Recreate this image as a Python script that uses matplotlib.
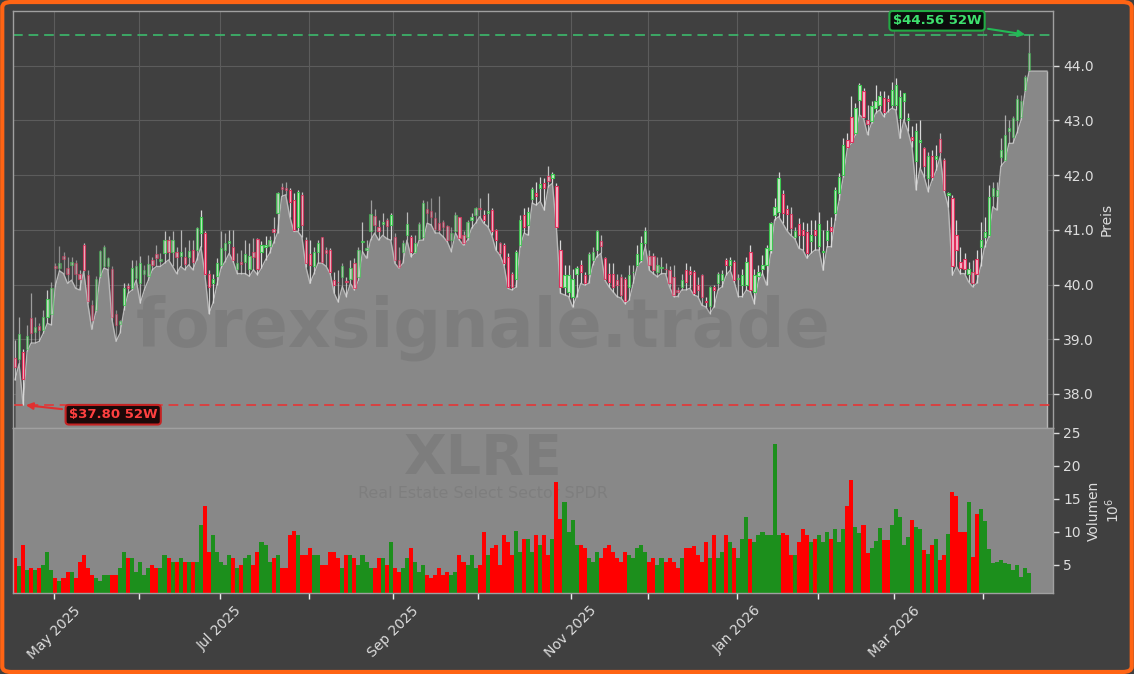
import numpy as np
import pandas as pd
import matplotlib
matplotlib.use("Agg")
import matplotlib.pyplot as plt
from matplotlib.colors import to_rgba
from matplotlib.patches import FancyBboxPatch

# ---------------- data ----------------
TICKER = "XLRE"
NAME = "Real Estate Select Sector SPDR"
WATERMARK = "forexsignale.trade"
START = "2025-04-16"
END = "2026-04-17"
HOLIDAYS = ["2025-04-18", "2025-05-26", "2025-06-19", "2025-07-04", "2025-09-01",
            "2025-11-27", "2025-12-25", "2026-01-01", "2026-01-19", "2026-02-16",
            "2026-04-03"]

opens = [
    38.65, 38.63, 38.77, 38.83, 39.38, 39.13, 39.24, 39.17, 39.41, 39.47,
    40.33, 40.30, 40.52, 40.30, 40.35, 40.39, 40.20, 40.73, 40.18, 39.63,
    39.54, 40.16, 40.33, 40.33, 40.29, 39.47, 39.28, 39.63, 39.98, 39.93,
    40.12, 40.02, 40.20, 40.15, 40.44, 40.56, 40.43, 40.57, 40.82, 40.60,
    40.60, 40.53, 40.50, 40.51, 40.63, 40.63, 40.94, 40.94, 40.20, 40.02,
    40.15, 40.36, 40.63, 40.76, 40.69, 40.28, 40.42, 40.42, 40.29, 40.60,
    40.84, 40.60, 40.69, 40.71, 41.01, 41.30, 41.78, 41.76, 41.73, 41.55,
    41.06, 41.64, 40.81, 40.55, 40.33, 40.60, 40.86, 40.63, 40.64, 40.08,
    40.05, 40.14, 40.07, 40.11, 40.39, 40.14, 40.77, 40.64, 40.97, 41.25,
    41.05, 41.10, 41.18, 41.09, 40.87, 40.44, 40.60, 40.90, 40.87, 40.60,
    40.84, 40.87, 41.38, 41.35, 41.21, 41.12, 41.15, 41.07, 40.81, 40.97,
    41.23, 40.90, 40.87, 41.18, 41.27, 41.40, 41.27, 41.30, 41.36, 40.99,
    40.75, 40.72, 40.51, 40.20, 40.11, 40.72, 41.27, 41.09, 41.56, 41.67,
    41.76, 41.85, 41.99, 41.94, 41.80, 40.63, 39.96, 39.87, 39.78, 40.20,
    40.36, 40.17, 40.20, 40.45, 40.63, 40.80, 40.48, 40.20, 40.20, 40.08,
    40.14, 40.11, 39.96, 40.22, 40.36, 40.45, 40.75, 40.52, 40.52, 40.23,
    40.30, 40.29, 40.26, 40.14, 39.90, 39.96, 40.26, 40.25, 40.23, 40.00,
    40.17, 39.70, 39.60, 39.95, 40.02, 40.08, 40.45, 40.36, 40.42, 40.10,
    39.99, 39.99, 40.60, 39.87, 40.15, 40.28, 40.36, 40.63, 41.27, 41.33,
    41.65, 41.38, 41.28, 40.86, 41.10, 41.00, 40.96, 40.80, 41.00, 40.70,
    40.60, 40.82, 41.06, 41.30, 41.67, 42.00, 42.64, 43.06, 42.77, 43.38,
    43.53, 43.01, 42.98, 43.22, 43.29, 43.41, 43.39, 43.29, 43.29, 43.04,
    43.36, 43.00, 42.70, 42.25, 42.60, 42.49, 41.95, 42.34, 42.30, 42.66,
    42.28, 41.64, 41.58, 40.90, 40.42, 40.46, 40.20, 40.23, 40.46, 40.69,
    40.87, 40.90, 41.61, 41.61, 42.33, 42.28, 42.80, 42.70, 43.01, 43.07,
    43.56, 43.93,
]
highs = [
    38.99, 39.41, 38.83, 39.26, 39.84, 39.41, 39.29, 39.54, 39.90, 40.05,
    40.39, 40.70, 40.60, 40.51, 40.51, 40.45, 40.27, 40.75, 40.27, 39.72,
    40.15, 40.63, 40.73, 40.51, 40.33, 39.54, 39.36, 40.02, 40.02, 40.45,
    40.45, 40.52, 40.36, 40.54, 40.51, 40.73, 40.57, 40.97, 40.88, 40.97,
    40.69, 41.00, 40.69, 40.82, 40.82, 41.06, 41.37, 40.97, 40.27, 40.20,
    40.48, 40.97, 40.94, 41.00, 41.00, 40.57, 40.63, 40.82, 40.76, 40.85,
    40.85, 40.79, 40.88, 40.88, 41.24, 41.70, 41.86, 41.88, 41.76, 41.67,
    41.73, 41.70, 40.87, 40.81, 40.69, 40.81, 40.87, 40.69, 40.66, 40.23,
    40.26, 40.39, 40.14, 40.45, 40.48, 40.69, 41.15, 40.81, 41.55, 41.38,
    41.18, 41.30, 41.21, 41.30, 40.94, 40.69, 40.81, 41.33, 40.90, 40.90,
    41.15, 41.55, 41.52, 41.58, 41.33, 41.61, 41.18, 41.09, 41.06, 41.33,
    41.24, 40.97, 41.18, 41.30, 41.42, 41.58, 41.36, 41.67, 41.40, 41.02,
    40.78, 40.75, 40.57, 40.23, 40.63, 41.27, 41.39, 41.42, 41.79, 41.88,
    41.97, 41.94, 42.16, 42.05, 41.85, 40.81, 40.36, 40.36, 40.29, 40.33,
    40.45, 40.23, 40.60, 40.69, 41.00, 40.90, 40.51, 40.39, 40.39, 40.20,
    40.20, 40.14, 40.36, 40.36, 40.72, 40.88, 41.06, 40.63, 40.57, 40.51,
    40.51, 40.39, 40.33, 40.36, 39.96, 40.20, 40.39, 40.33, 40.26, 40.14,
    40.20, 39.78, 39.98, 40.00, 40.23, 40.26, 40.48, 40.51, 40.45, 40.20,
    40.29, 40.51, 40.72, 40.29, 40.36, 40.54, 40.72, 41.15, 41.58, 42.06,
    41.73, 41.45, 41.42, 41.06, 41.21, 41.15, 41.12, 41.18, 41.18, 41.33,
    41.00, 41.18, 41.24, 41.79, 42.03, 42.67, 42.77, 43.45, 43.32, 43.68,
    43.59, 43.29, 43.35, 43.65, 43.53, 43.53, 43.47, 43.71, 43.77, 43.56,
    43.50, 43.13, 42.89, 42.95, 43.01, 42.52, 42.43, 42.46, 42.55, 42.77,
    42.31, 41.70, 41.64, 41.18, 40.69, 40.57, 40.42, 40.45, 40.63, 41.15,
    41.24, 41.82, 41.88, 41.88, 42.67, 43.10, 43.01, 43.08, 43.47, 43.47,
    43.83, 44.56,
]
lows = [
    38.26, 38.55, 37.80, 38.78, 38.93, 38.93, 38.96, 39.11, 39.29, 39.26,
    39.98, 40.25, 40.20, 40.02, 40.08, 39.93, 39.90, 40.24, 39.66, 39.18,
    39.50, 40.12, 40.30, 40.27, 39.36, 38.96, 39.11, 39.54, 39.84, 39.90,
    40.08, 39.66, 39.90, 40.08, 40.27, 40.33, 40.33, 40.39, 40.45, 40.33,
    40.20, 40.33, 40.27, 40.36, 40.27, 40.45, 40.69, 40.18, 39.47, 39.66,
    40.00, 40.30, 40.42, 40.57, 40.42, 40.20, 40.20, 40.20, 40.15, 40.27,
    40.18, 40.30, 40.45, 40.57, 40.76, 40.95, 41.61, 41.64, 41.24, 40.97,
    40.97, 40.87, 40.32, 40.02, 40.20, 40.39, 40.39, 40.33, 40.20, 39.84,
    39.68, 39.96, 39.78, 40.02, 39.90, 40.08, 40.60, 40.48, 40.81, 40.94,
    40.81, 40.90, 40.84, 40.81, 40.39, 40.30, 40.39, 40.81, 40.51, 40.58,
    40.81, 40.81, 41.12, 41.09, 40.94, 40.94, 40.87, 40.78, 40.60, 40.94,
    40.81, 40.72, 40.81, 41.03, 41.12, 41.24, 41.12, 41.06, 40.90, 40.63,
    40.54, 40.36, 39.93, 39.90, 39.95, 40.69, 40.94, 40.90, 41.49, 41.45,
    41.52, 41.36, 41.79, 41.85, 41.03, 39.84, 39.81, 39.78, 39.59, 39.78,
    40.02, 39.99, 40.02, 40.36, 40.51, 40.57, 40.08, 39.96, 39.87, 39.78,
    39.75, 39.65, 39.71, 40.02, 40.33, 40.42, 40.69, 40.26, 40.20, 40.14,
    40.20, 40.20, 39.96, 39.78, 39.78, 39.90, 39.90, 39.93, 39.81, 39.78,
    39.62, 39.59, 39.47, 39.59, 39.90, 39.96, 40.17, 40.26, 40.05, 39.78,
    39.78, 39.90, 39.87, 39.65, 40.08, 40.20, 39.99, 40.57, 41.18, 41.24,
    41.12, 40.99, 40.90, 40.84, 40.66, 40.63, 40.48, 40.57, 40.63, 40.63,
    40.26, 40.69, 40.69, 41.18, 41.55, 41.97, 42.49, 42.58, 42.74, 43.10,
    43.04, 42.74, 42.95, 43.13, 43.19, 43.07, 43.16, 43.22, 43.19, 42.67,
    43.01, 42.80, 42.52, 41.73, 42.13, 41.97, 41.70, 41.91, 42.09, 42.34,
    41.70, 41.42, 40.17, 40.33, 40.20, 40.20, 40.05, 39.96, 40.02, 40.33,
    40.69, 40.87, 41.42, 41.36, 42.16, 42.25, 42.58, 42.58, 42.77, 43.01,
    43.53, 43.90,
]
closes = [
    38.49, 39.09, 38.27, 39.05, 39.11, 39.22, 39.16, 39.41, 39.73, 39.93,
    40.30, 40.40, 40.47, 40.20, 40.42, 40.20, 40.10, 40.27, 39.70, 39.35,
    40.10, 40.62, 40.69, 40.48, 39.41, 39.26, 39.33, 39.93, 39.93, 40.30,
    40.33, 40.39, 40.27, 40.37, 40.36, 40.48, 40.46, 40.82, 40.59, 40.82,
    40.50, 40.60, 40.38, 40.62, 40.42, 41.03, 41.24, 40.20, 39.96, 40.11,
    40.39, 40.66, 40.76, 40.79, 40.45, 40.39, 40.38, 40.56, 40.52, 40.50,
    40.29, 40.73, 40.73, 40.82, 40.96, 41.67, 41.75, 41.72, 41.50, 41.00,
    41.70, 41.09, 40.39, 40.35, 40.60, 40.75, 40.42, 40.57, 40.23, 39.99,
    40.04, 40.34, 40.04, 40.30, 39.93, 40.64, 40.80, 40.66, 41.29, 41.09,
    40.97, 41.15, 41.07, 41.27, 40.45, 40.32, 40.75, 41.10, 40.60, 40.75,
    41.10, 41.49, 41.30, 41.24, 41.01, 40.99, 41.06, 40.81, 40.95, 41.27,
    40.85, 40.75, 41.15, 41.24, 41.39, 41.38, 41.18, 41.34, 40.97, 40.81,
    40.57, 40.39, 39.96, 39.96, 40.60, 41.18, 41.06, 41.33, 41.74, 41.61,
    41.83, 41.76, 41.90, 42.02, 41.06, 39.96, 40.17, 40.17, 40.11, 40.30,
    40.22, 40.02, 40.56, 40.60, 40.98, 40.70, 40.11, 40.05, 39.96, 40.00,
    39.81, 39.69, 40.17, 40.23, 40.56, 40.75, 40.97, 40.36, 40.26, 40.36,
    40.30, 40.28, 40.02, 39.81, 39.87, 40.09, 40.05, 40.20, 39.84, 39.90,
    39.78, 39.68, 39.96, 39.90, 40.20, 40.20, 40.36, 40.45, 40.08, 40.12,
    40.17, 40.42, 39.90, 40.17, 40.23, 40.36, 40.66, 41.12, 41.42, 41.94,
    41.30, 41.29, 41.03, 40.97, 40.90, 40.90, 40.57, 40.90, 40.90, 41.10,
    40.62, 40.97, 40.97, 41.72, 41.97, 42.55, 42.52, 42.61, 43.22, 43.65,
    43.07, 42.94, 43.27, 43.35, 43.44, 43.16, 43.35, 43.56, 43.65, 43.43,
    43.50, 43.05, 42.65, 42.80, 42.64, 42.16, 42.34, 41.97, 42.34, 42.43,
    41.73, 41.67, 40.33, 40.63, 40.30, 40.28, 40.29, 40.02, 40.20, 40.81,
    40.96, 41.60, 41.76, 41.73, 42.46, 42.74, 42.86, 43.04, 43.40, 43.35,
    43.80, 44.23,
]
volumes_m = [
    6.0, 4.8, 8.0, 4.3, 4.5, 4.2, 4.5, 5.0, 7.0, 4.2,
    3.0, 2.5, 3.0, 4.0, 4.0, 3.0, 5.5, 6.5, 4.5, 3.5,
    3.0, 2.5, 3.5, 3.5, 3.5, 3.5, 4.5, 7.0, 6.0, 6.0,
    4.0, 5.5, 3.5, 4.5, 5.0, 4.5, 4.5, 6.5, 6.0, 5.5,
    5.5, 6.0, 5.5, 5.5, 5.5, 5.5, 11.0, 14.0, 7.0, 9.5,
    7.0, 5.5, 5.0, 6.5, 6.0, 4.5, 5.0, 6.0, 6.5, 5.0,
    7.0, 8.5, 8.0, 5.5, 6.0, 6.5, 4.5, 4.5, 9.5, 10.2,
    9.5, 6.5, 6.5, 7.5, 6.5, 6.5, 5.0, 5.0, 7.0, 7.0,
    6.0, 4.5, 6.5, 6.5, 6.0, 5.0, 6.5, 5.5, 4.5, 4.5,
    6.0, 6.0, 5.0, 8.5, 4.5, 4.0, 4.5, 6.0, 7.5, 5.5,
    4.0, 5.0, 3.5, 3.0, 3.5, 4.5, 3.5, 4.0, 3.5, 4.0,
    6.5, 5.5, 5.0, 6.5, 4.5, 5.0, 10.0, 6.5, 7.5, 8.0,
    5.0, 9.5, 8.5, 6.5, 10.2, 7.0, 9.0, 9.0, 7.0, 9.5,
    8.0, 9.5, 6.5, 9.0, 17.5, 12.0, 14.5, 10.0, 11.8, 8.0,
    8.0, 7.5, 6.0, 5.5, 7.0, 6.0, 7.5, 8.0, 7.0, 6.0,
    5.5, 7.0, 6.5, 6.0, 7.5, 8.0, 7.0, 5.5, 6.0, 5.0,
    6.0, 5.5, 6.0, 5.5, 4.5, 6.0, 7.5, 7.5, 7.8, 6.5,
    5.5, 8.5, 6.0, 9.5, 6.0, 7.0, 9.5, 8.5, 7.5, 6.0,
    9.0, 12.3, 9.0, 8.5, 9.5, 10.0, 9.5, 9.5, 23.3, 9.5,
    9.8, 9.5, 6.5, 6.5, 8.5, 10.5, 9.5, 8.5, 9.0, 9.5,
    8.5, 10.0, 9.0, 10.5, 8.5, 10.5, 14.0, 17.9, 10.8, 9.8,
    11.1, 6.8, 7.5, 8.7, 10.6, 8.8, 8.8, 11.0, 13.4, 12.3,
    8.0, 9.3, 11.8, 10.8, 10.5, 7.2, 6.7, 8.0, 9.0, 5.8,
    6.5, 9.7, 16.0, 15.5, 10.0, 10.0, 14.6, 6.2, 12.7, 13.5,
    11.6, 7.4, 5.3, 5.4, 5.8, 5.3, 5.1, 4.2, 5.0, 3.2,
    4.5, 3.8,
]

# ---------------- style ----------------
BG = "#404040"
FILL = "#888888"
TXT = "#dddddd"
UP_EDGE, UP_FACE = "#3cc850", "#c6e8c6"
DN_EDGE, DN_FACE = "#e0305c", "#f5b8c8"
VOL_UP, VOL_DN = "#1c8f1c", "#ff0000"
PAD_DAYS = 4.4
W, H = 1134, 674

dates = pd.bdate_range(START, END, freq="C", holidays=HOLIDAYS)
o = np.array(opens); h = np.array(highs); l = np.array(lows); c = np.array(closes)
v = np.array(volumes_m)
n = len(c)
x = np.arange(n)
up = c >= o

hi_i, lo_i = int(np.argmax(h)), int(np.argmin(l))
hi, lo = h[hi_i], l[lo_i]
rng = hi - lo
ybot, ytop = lo - 0.0625 * rng, hi + 0.065 * rng

fig = plt.figure(figsize=(W / 100, H / 100), dpi=100, facecolor=BG)
ax = fig.add_axes([13 / W, 1 - 428 / H, 1040 / W, 417 / H])
axv = fig.add_axes([13 / W, 1 - 593 / H, 1040 / W, 165 / H], sharex=ax)

for a in (ax, axv):
    for s in a.spines.values():
        s.set_color("#a0a0a0")
        s.set_linewidth(1.0)

# --- price panel ---
ax.set_facecolor(BG)
ax.grid(True, color="#5c5c5c", lw=0.8, zorder=0)
ax.set_axisbelow(True)

x_ext = np.append(x, x[-1] + PAD_DAYS)
l_ext = np.append(l, l[-1])
ax.fill_between(x_ext, l_ext, ybot, color=FILL, lw=0, zorder=1)
ax.plot(x_ext, l_ext, color="#b8b8b8", lw=1.0, zorder=1.2)
ax.vlines(x_ext[-1], ybot, l_ext[-1], color="#b8b8b8", lw=1.0, zorder=1.2)

# watermark (over the fill, under the candles)
ax.text((483 - 13) / 1040, 1 - (328 - 11) / 417, WATERMARK, transform=ax.transAxes,
        ha="center", va="center", fontsize=48, fontweight="bold", color="black",
        alpha=0.075, zorder=1.5)

alpha = 0.35 + 0.65 * np.clip((v - 3.5) / 5.5, 0, 1)
face = [to_rgba(UP_FACE if u else DN_FACE, a) for u, a in zip(up, alpha)]
edge = [to_rgba(UP_EDGE if u else DN_EDGE, min(1, a + 0.1)) for u, a in zip(up, alpha)]
wick = [to_rgba("#d8d8d8", min(1, a + 0.15)) for a in alpha]
ax.vlines(x, l, h, colors=wick, lw=0.9, zorder=3)
body_bot = np.minimum(o, c)
body_h = np.maximum(np.abs(c - o), 0.012)
ax.bar(x, body_h, bottom=body_bot, width=0.58, color=face, edgecolor=edge,
       linewidth=0.8, zorder=4)

ax.axhline(hi, color="#3cb36a", ls=(0, (5, 3)), lw=1.4, alpha=0.9, zorder=2)
ax.axhline(lo, color="#e03a3a", ls=(0, (5, 3)), lw=1.4, alpha=0.9, zorder=2)

ax.annotate(f"${hi:.2f} 52W", xy=(hi_i - 0.3, hi), xytext=(228.2, hi + 0.26),
            color="#3ee06e", fontsize=9.5, fontweight="bold", ha="center", va="center",
            bbox=dict(boxstyle="round,pad=0.25", fc="#0c0c0c", ec="#22aa44", lw=1.5),
            arrowprops=dict(arrowstyle="-|>", color="#22bb55", lw=1.5, mutation_scale=10),
            zorder=6)
ax.annotate(f"${lo:.2f} 52W", xy=(lo_i, lo), xytext=(24.3, lo - 0.18),
            color="#ff4040", fontsize=9.5, fontweight="bold", ha="center", va="center",
            bbox=dict(boxstyle="round,pad=0.25", fc="#1c0808", ec="#c42222", lw=1.5),
            arrowprops=dict(arrowstyle="-|>", color="#e03030", lw=1.5, mutation_scale=10),
            zorder=6)

ax.set_ylim(ybot, ytop)
ax.set_xlim(-0.5, 256.9)
ax.yaxis.tick_right()
ax.yaxis.set_label_position("right")
ax.set_yticks(np.arange(38, 45, 1.0))
ax.set_yticklabels([f"{t:.1f}" for t in np.arange(38, 45, 1.0)])
ax.tick_params(axis="y", colors=TXT, labelsize=10, length=4, width=1)
ax.tick_params(axis="x", bottom=False, labelbottom=False)
ax.set_ylabel("Preis", color=TXT, fontsize=10)

# month ticks (first trading day of each month)
months = dates.to_period("M")
starts = [i for i in range(1, n) if months[i] != months[i - 1]]
tick_pos = [i - 0.35 for i in starts]
tick_lab = [dates[i].strftime("%b %Y") if dates[i].month % 2 == 1 else "" for i in starts]
ax.set_xticks(tick_pos)

# --- volume panel ---
axv.set_facecolor(FILL)
axv.bar(x, v, width=1.0, color=[VOL_UP if u else VOL_DN for u in up], lw=0, zorder=2)
axv.set_ylim(0.75, v.max() * 1.105)
axv.yaxis.tick_right()
axv.yaxis.set_label_position("right")
axv.set_yticks([5, 10, 15, 20, 25])
axv.tick_params(axis="y", colors=TXT, labelsize=10, length=4, width=1)
axv.set_ylabel("Volumen\n$10^6$", color=TXT, fontsize=10)
axv.set_xticks(tick_pos)
axv.set_xticklabels(tick_lab, rotation=45, ha="center", color=TXT, fontsize=10)
axv.tick_params(axis="x", colors="#eeeeee", length=4, width=1, labelcolor=TXT)
axv.set_xlim(-0.5, 256.9)

axv.text(0.452, 1 - 31 / 165, TICKER, transform=axv.transAxes, ha="center", va="center",
         fontsize=40, fontweight="bold", color="black", alpha=0.08, zorder=1)
axv.text(0.452, 1 - 65 / 165, NAME, transform=axv.transAxes, ha="center", va="center",
         fontsize=11.5, color="black", alpha=0.07, zorder=1)

# --- orange frame ---
fig.patches.append(FancyBboxPatch((0.002, 0.003), 0.996, 0.994, transform=fig.transFigure,
                                  boxstyle="round,pad=0,rounding_size=0.008",
                                  fill=False, ec="#ff6414", lw=3.0, zorder=10))

fig.savefig("out.png", dpi=100, facecolor=BG)
